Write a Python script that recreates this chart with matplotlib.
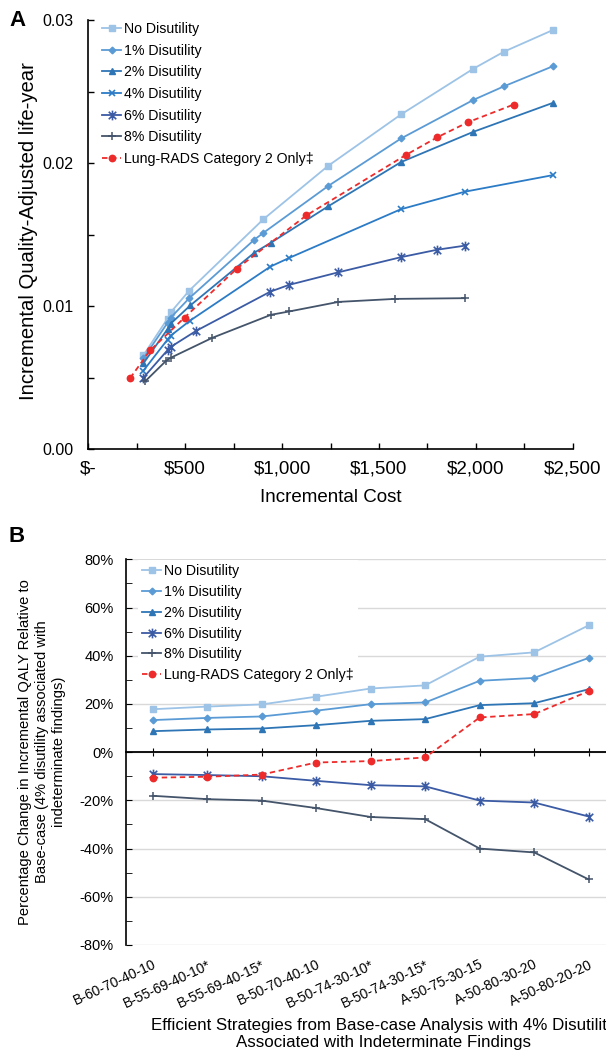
import matplotlib.pyplot as plt
from matplotlib.path import Path
from matplotlib.ticker import MultipleLocator, FuncFormatter

plt.rcParams['font.family'] = ['Liberation Sans', 'DejaVu Sans']

# Panel A: incremental cost vs incremental QALY, by disutility level
cost_none = [284, 409, 426, 521, 903, 1238, 1614, 1988, 2146, 2398]
qaly_none = [0.00656, 0.00914, 0.00958, 0.01109, 0.01607, 0.01981, 0.0234, 0.0266, 0.02779, 0.0293]
cost_1 = [284, 409, 426, 521, 857, 903, 1238, 1614, 1988, 2146, 2398]
qaly_1 = [0.00635, 0.00884, 0.00921, 0.01056, 0.01465, 0.01512, 0.0184, 0.02172, 0.02442, 0.02537, 0.02677]
cost_2 = [284, 409, 426, 526, 857, 943, 1238, 1614, 1988, 2398]
qaly_2 = [0.006, 0.0084, 0.00879, 0.01005, 0.01374, 0.01444, 0.01698, 0.02007, 0.02219, 0.02421]
cost_4 = [284, 409, 426, 526, 940, 1036, 1612, 1943, 2398]
qaly_4 = [0.00549, 0.00767, 0.00795, 0.009, 0.01277, 0.01337, 0.01677, 0.018, 0.01916]
cost_6 = [284, 409, 426, 557, 940, 1036, 1291, 1612, 1802, 1943]
qaly_6 = [0.005, 0.00693, 0.00716, 0.00828, 0.01102, 0.01149, 0.01237, 0.01342, 0.01395, 0.01423]
cost_8 = [295, 402, 426, 640, 943, 1036, 1291, 1581, 1943]
qaly_8 = [0.00477, 0.00619, 0.0064, 0.00779, 0.0094, 0.00963, 0.0103, 0.01051, 0.01056]
cost_lr = [216, 319, 497, 767, 1126, 1638, 1802, 1960, 2195]
qaly_lr = [0.00498, 0.00691, 0.00921, 0.01263, 0.01635, 0.02056, 0.02181, 0.02286, 0.02409]

# Panel B: percentage change relative to base case (4% disutility)
strategies = ['B-60-70-40-10', 'B-55-69-40-10*', 'B-55-69-40-15*', 'B-50-70-40-10',
              'B-50-74-30-10*', 'B-50-74-30-15*', 'A-50-75-30-15', 'A-50-80-30-20', 'A-50-80-20-20']
pct_none = [17.8, 18.9, 19.8, 23.0, 26.4, 27.7, 39.6, 41.4, 52.6]
pct_1 = [13.3, 14.2, 14.8, 17.2, 19.9, 20.6, 29.6, 30.8, 39.1]
pct_2 = [8.7, 9.4, 9.8, 11.2, 13.0, 13.7, 19.5, 20.3, 26.1]
pct_6 = [-9.1, -9.5, -10.0, -11.9, -13.7, -14.2, -20.1, -20.9, -26.7]
pct_8 = [-18.1, -19.5, -20.1, -23.2, -26.9, -27.8, -40.0, -41.6, -52.8]
pct_lr = [-10.6, -10.2, -9.3, -4.3, -3.7, -2.2, 14.4, 15.8, 25.3]

# excel-style "star" marker: an x with a vertical bar
star = Path([(-1, -1), (1, 1), (-1, 1), (1, -1), (0, -1.3), (0, 1.3)],
            [Path.MOVETO, Path.LINETO, Path.MOVETO, Path.LINETO, Path.MOVETO, Path.LINETO])

c_none, c_1, c_2, c_4, c_6, c_8, c_lr = '#9DC3E6', '#5B9BD5', '#2E75B6', '#2B7BC6', '#3B5BA5', '#44546A', '#EE2B2B'

styles = {
    'No Disutility': dict(color=c_none, marker='s', ms=4.2),
    '1% Disutility': dict(color=c_1, marker='D', ms=3.4),
    '2% Disutility': dict(color=c_2, marker='^', ms=5),
    '4% Disutility': dict(color=c_4, marker='x', ms=5, mew=1.2),
    '6% Disutility': dict(color=c_6, marker=star, ms=7, mew=1.2),
    '8% Disutility': dict(color=c_8, marker='+', ms=6, mew=1.1),
    'Lung-RADS Category 2 Only\u2021': dict(color=c_lr, marker='o', ms=4.6, ls=(0, (3, 2))),
}

fig = plt.figure(figsize=(6.06, 10.55), dpi=100)
W, H = 606, 1055

# ---------------- Panel A ----------------
axA = fig.add_axes([88.3 / W, 1 - 449.3 / H, 484.4 / W, 429.3 / H])
for lab, x, y in [('No Disutility', cost_none, qaly_none), ('1% Disutility', cost_1, qaly_1),
                  ('2% Disutility', cost_2, qaly_2), ('4% Disutility', cost_4, qaly_4),
                  ('6% Disutility', cost_6, qaly_6), ('8% Disutility', cost_8, qaly_8),
                  ('Lung-RADS Category 2 Only\u2021', cost_lr, qaly_lr)]:
    axA.plot(x, y, lw=1.3, label=lab, **styles[lab])

axA.set_xlim(0, 2500)
axA.set_ylim(0, 0.03)
axA.xaxis.set_major_locator(MultipleLocator(500))
axA.xaxis.set_minor_locator(MultipleLocator(250))
axA.yaxis.set_major_locator(MultipleLocator(0.01))
axA.yaxis.set_minor_locator(MultipleLocator(0.005))
axA.xaxis.set_major_formatter(FuncFormatter(lambda v, p: '$-' if v == 0 else f'${v:,.0f}'))
axA.yaxis.set_major_formatter(FuncFormatter(lambda v, p: f'{v:.2f}'))
axA.tick_params(which='both', direction='in', length=4, width=1)
axA.tick_params(axis='x', labelsize=13.5, pad=8)
axA.tick_params(axis='y', labelsize=11.5, pad=11)
for s in ['top', 'right']:
    axA.spines[s].set_visible(False)
for s in ['left', 'bottom']:
    axA.spines[s].set_linewidth(1.2)

axA.legend(loc='upper left', bbox_to_anchor=(102 / W, 1 - 22 / H), bbox_transform=fig.transFigure,
           frameon=False, fontsize=10.2, numpoints=1, handlelength=1.35, handletextpad=0.2,
           labelspacing=0.54, borderpad=0, borderaxespad=0)

fig.text(330.5 / W, 1 - 497 / H, 'Incremental Cost', ha='center', va='center', fontsize=13.5)
fig.text(29 / W, 1 - 231 / H, 'Incremental Quality-Adjusted life-year', ha='center', va='center',
         rotation=90, fontsize=14.6)
fig.text(9 / W, 1 - 20 / H, 'A', ha='left', va='center', fontsize=16, fontweight='bold')

# ---------------- Panel B ----------------
axB = fig.add_axes([126 / W, 1 - 945 / H, 490.5 / W, 385.7 / H])
xs = list(range(len(strategies)))
for lab, y in [('No Disutility', pct_none), ('1% Disutility', pct_1), ('2% Disutility', pct_2),
               ('6% Disutility', pct_6), ('8% Disutility', pct_8),
               ('Lung-RADS Category 2 Only\u2021', pct_lr)]:
    axB.plot(xs, y, lw=1.3, label=lab, zorder=3, **styles[lab])

axB.set_xlim(-0.49, 8.51)
axB.set_ylim(-80, 80)
axB.yaxis.set_major_locator(MultipleLocator(20))
axB.yaxis.set_minor_locator(MultipleLocator(10))
axB.yaxis.set_major_formatter(FuncFormatter(lambda v, p: f'{v:.0f}%'))
axB.yaxis.grid(True, color='#D9D9D9', lw=1)
axB.set_axisbelow(True)
axB.tick_params(axis='y', which='both', direction='in', length=4, labelsize=10.5, pad=9)
axB.set_xticks(xs)
axB.spines['bottom'].set_position(('data', 0))
axB.spines['bottom'].set_linewidth(1.3)
axB.spines['left'].set_linewidth(1.2)
axB.tick_params(axis='x', direction='inout', length=6, labelbottom=False)
for s in ['top', 'right']:
    axB.spines[s].set_visible(False)

sec = axB.secondary_xaxis('bottom')
sec.set_xticks(xs, strategies)
sec.spines['bottom'].set_visible(False)
sec.tick_params(length=0, pad=9, labelsize=10)
for t in sec.get_xticklabels():
    t.set_rotation(25)
    t.set_ha('right')
    t.set_va('top')
    t.set_rotation_mode('anchor')

leg = axB.legend(loc='upper left', bbox_to_anchor=(138 / W, 1 - 560 / H), bbox_transform=fig.transFigure,
                 frameon=True, facecolor='white', edgecolor='none', framealpha=1, fancybox=False,
                 fontsize=10.2, numpoints=1, handlelength=1.35, handletextpad=0.2,
                 labelspacing=0.48, borderpad=0.3, borderaxespad=0)

fig.text(42 / W, 1 - 752 / H,
         'Percentage Change in Incremental QALY Relative to\nBase-case (4% disutility associated with\nindeterminate findings)',
         ha='center', va='center', rotation=90, fontsize=10.6, linespacing=1.25)
fig.text(383 / W, 1 - 1034 / H,
         'Efficient Strategies from Base-case Analysis with 4% Disutility\nAssociated with Indeterminate Findings',
         ha='center', va='center', fontsize=12.2, linespacing=1.1)
fig.text(9 / W, 1 - 537 / H, 'B', ha='left', va='center', fontsize=16, fontweight='bold')

fig.savefig('out.png', dpi=100)
